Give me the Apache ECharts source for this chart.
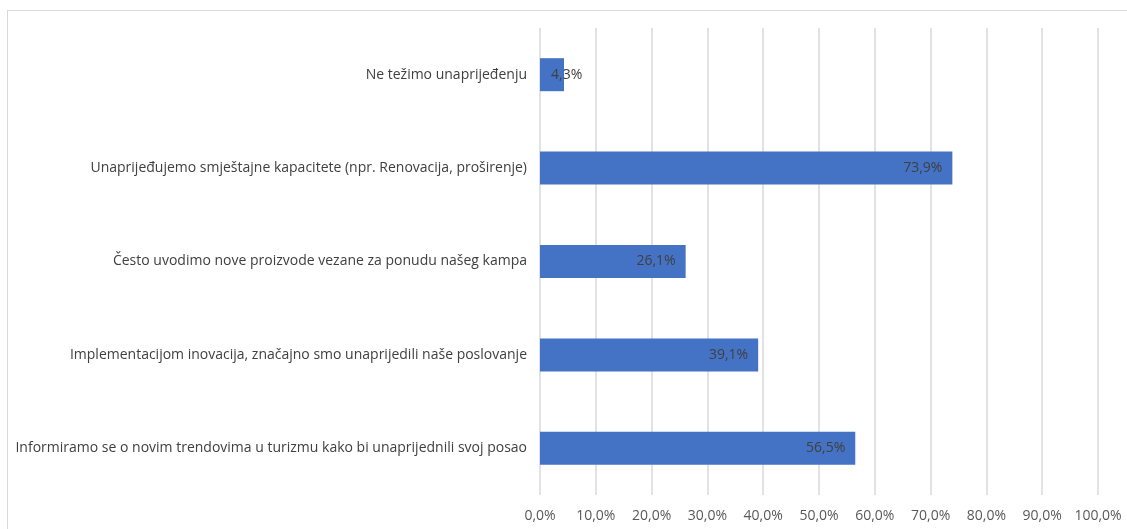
<!DOCTYPE html>
<html><head><meta charset="utf-8">
<script src="https://cdn.jsdelivr.net/npm/echarts@6/dist/echarts.min.js"></script>
<style>
html,body{margin:0;padding:0;background:#fff;}
#frame{position:absolute;left:7px;top:10px;width:1140px;height:540px;border:1px solid #d9d9d9;box-sizing:border-box;}
#c{position:absolute;left:0;top:0;width:1127px;height:529px;}
</style></head>
<body><div id="frame"></div><div id="c"></div>
<script>
var categories = [
  "Ne težimo unaprijeđenju",
  "Unaprijeđujemo smještajne kapacitete (npr. Renovacija, proširenje)",
  "Često uvodimo nove proizvode vezane za ponudu našeg kampa",
  "Implementacijom inovacija, značajno smo unaprijedili naše poslovanje",
  "Informiramo se o novim trendovima u turizmu kako bi unaprijednili svoj posao"
];
var values = [4.3, 73.9, 26.1, 39.1, 56.5];
var fmt = function(v){ return v.toFixed(1).replace('.', ',') + '%'; };
var data = values.map(function(v){
  return v < 8 ? {value:v, label:{position:'insideLeft', distance:11}} : v;
});
var chart = echarts.init(document.getElementById('c'));
chart.setOption({
  animation:false,
  textStyle:{fontFamily:'"Open Sans", sans-serif'},
  grid:{left:540,right:29,top:28,height:467,containLabel:false},
  xAxis:{type:'value',min:0,max:100,interval:10,
    axisLine:{show:false},axisTick:{show:false},
    splitLine:{lineStyle:{color:'#d9d9d9',width:1.5}},
    axisLabel:{color:'#595959',fontSize:14,margin:14,formatter:function(v){return fmt(v);}}},
  yAxis:{type:'category',data:categories,inverse:true,
    axisLine:{show:false},axisTick:{show:false},
    axisLabel:{color:'#404040',fontSize:14,margin:13}},
  series:[{type:'bar',data:data,barWidth:33,
    itemStyle:{color:'#4472C4'},
    label:{show:true,position:'insideRight',distance:10,color:'#404040',fontSize:14,
      formatter:function(p){return fmt(p.value);}}}]
});
</script></body></html>
